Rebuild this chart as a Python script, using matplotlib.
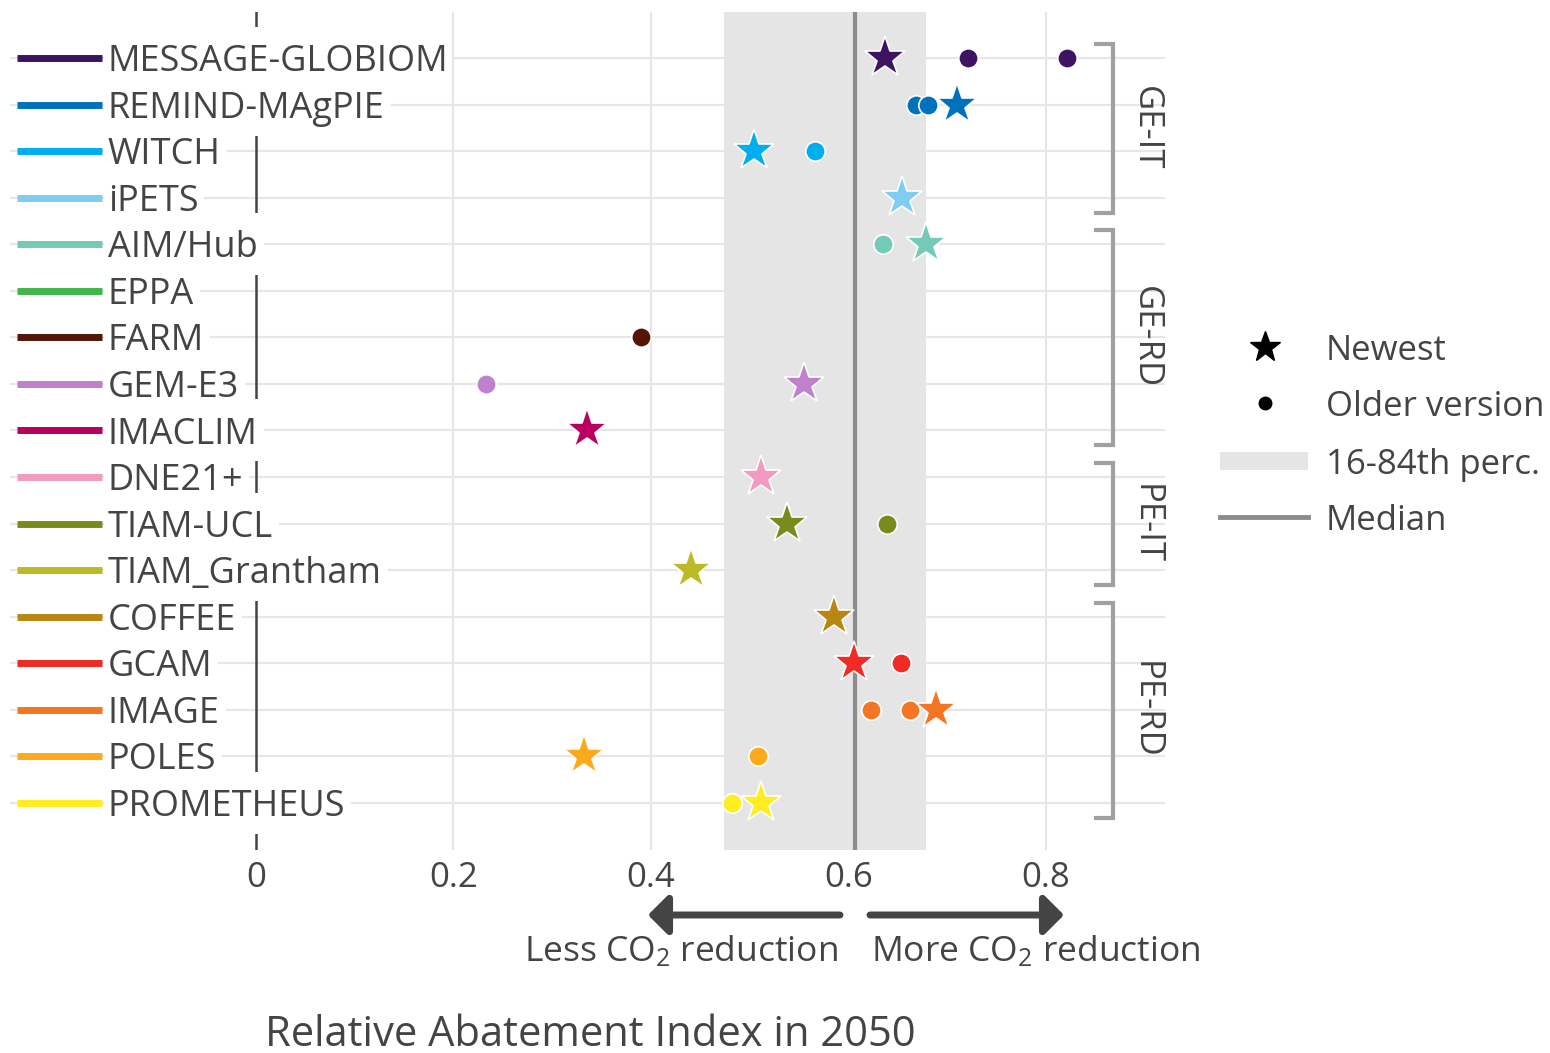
import matplotlib
matplotlib.use("Agg")
import matplotlib.pyplot as plt

plt.rcParams['font.family'] = ['Open Sans', 'DejaVu Sans']
plt.rcParams['mathtext.fontset'] = 'custom'
plt.rcParams['mathtext.rm'] = 'Open Sans'
plt.rcParams['mathtext.it'] = 'Open Sans'

TXT = '#444444'

# ---- data ----
models = ['MESSAGE-GLOBIOM', 'REMIND-MAgPIE', 'WITCH', 'iPETS', 'AIM/Hub', 'EPPA',
          'FARM', 'GEM-E3', 'IMACLIM', 'DNE21+', 'TIAM-UCL', 'TIAM_Grantham',
          'COFFEE', 'GCAM', 'IMAGE', 'POLES', 'PROMETHEUS']
colors = ['#3f1363', '#0072bd', '#00aeef', '#7fcdf2', '#74c9b9', '#3fb54a',
          '#541406', '#bf80cc', '#b8005f', '#f39ac0', '#788c1d', '#bdbb25',
          '#b98611', '#ef2b24', '#f47522', '#fbaa1d', '#ffed1f']
# newest version (star), None = no value
newest = [0.637, 0.710, 0.504, 0.654, 0.678, None,
          None, 0.555, 0.335, 0.511, 0.538, 0.441,
          0.585, 0.606, 0.689, 0.332, 0.511]
# older versions (dots)
older = [[0.721, 0.821], [0.668, 0.680], [0.566], [], [0.635], [],
         [0.390], [0.233], [], [], [0.639], [],
         [], [0.653], [0.623, 0.662], [0.508], [0.482]]
groups = ['GE-IT', 'GE-RD', 'PE-IT', 'PE-RD']
group_rows = [(0, 3), (4, 8), (9, 11), (12, 16)]
median = 0.6066
perc16, perc84 = 0.474, 0.678
xticks = [0, 0.2, 0.4, 0.6, 0.8]
xticklabels = ['0', '0.2', '0.4', '0.6', '0.8']

W, H = 1550, 1053
fig = plt.figure(figsize=(W / 100, H / 100), dpi=100)
ax = fig.add_axes([10 / W, (H - 850) / H, 1155 / W, 838 / H])
ax.set_xlim(-0.2491, 0.9205)
ax.set_ylim(17.01, -0.988)
for s in ax.spines.values():
    s.set_visible(False)

# grid, band, median
ax.axvspan(perc16, perc84, color='#e5e5e5', lw=0, zorder=0.5)
for x in xticks[1:]:
    ax.axvline(x, color='#e6e6e6', lw=1.5, zorder=2.6)
for i in range(len(models)):
    ax.axhline(i, color='#e6e6e6', lw=1.5, zorder=0)
ax.axvline(median, color='#8c8c8c', lw=3, zorder=2.7)
ax.axvline(0, color=TXT, lw=1.8, zorder=2)

ax.set_xticks(xticks)
ax.set_xticklabels(xticklabels)
ax.tick_params(axis='x', length=0, pad=8, labelsize=25, labelcolor=TXT)
ax.set_yticks([])

# model legend on the left
labels = []
for i, (m, c) in enumerate(zip(models, colors)):
    ax.plot([-0.242, -0.156], [i, i], color=c, lw=5, solid_capstyle='butt', zorder=4)
    labels.append(ax.text(-0.150, i + 0.28, m, fontsize=26, color=TXT,
                          va='baseline', ha='left', zorder=3))

# white boxes behind labels (hide grid and zero line like the original)
fig.canvas.draw()
inv = ax.transData.inverted()
for i, t in enumerate(labels):
    bb = t.get_window_extent()
    x0 = inv.transform((bb.x0 - 4, 0))[0]
    x1 = inv.transform((bb.x1 + 6, 0))[0]
    ax.add_patch(plt.Rectangle((x0, i - 0.666), x1 - x0, 1.332, facecolor='white',
                               edgecolor='none', zorder=2.5))

# points
for i, c in enumerate(colors):
    for v in older[i]:
        ax.plot(v, i, 'o', ms=14, color=c, mec='white', mew=1.2, zorder=5)
    if newest[i] is not None:
        ax.plot(newest[i], i, '*', ms=31, color=c, mec='white', mew=1.2, zorder=6)

# group brackets
for g, (a, b) in zip(groups, group_rows):
    y0, y1 = a - 0.3, b + 0.32
    ax.plot([0.851, 0.868, 0.868, 0.851], [y0, y0, y1, y1], color='#a0a0a0', lw=3,
            clip_on=False, zorder=3, solid_joinstyle='miter')
    ax.text(0.901, (a + b) / 2, g, rotation=270, fontsize=25, color=TXT,
            ha='center', va='center', clip_on=False)

# overlay in pixel coordinates for legend, arrows and title
ov = fig.add_axes([0, 0, 1, 1], facecolor='none')
ov.set_xlim(0, W)
ov.set_ylim(H, 0)
ov.axis('off')

ov.plot(1265, 347, '*', ms=23, color='black')
ov.plot(1265, 403, 'o', ms=9, color='black')
ov.add_patch(plt.Rectangle((1220, 452), 88, 18, color='#e5e5e5', lw=0))
ov.plot([1220, 1308], [517, 517], color='#8c8c8c', lw=3.5)
for y, t in zip([347, 403, 461, 517], ['Newest', 'Older version', '16-84th perc.', 'Median']):
    ov.text(1326, y + 12.5, t, fontsize=25, color=TXT, va='baseline', ha='left')

arrow = dict(arrowstyle='-|>,head_length=0.6,head_width=0.6', lw=5, color=TXT,
             shrinkA=0, shrinkB=0, mutation_scale=20)
ov.annotate('', xy=(648, 915), xytext=(840, 915), arrowprops=arrow)
ov.annotate('', xy=(1064, 915), xytext=(870, 915), arrowprops=arrow)
ov.text(838, 961, 'Less CO$_2$ reduction', fontsize=25.5, color=TXT, ha='right', va='baseline')
ov.text(871, 961, 'More CO$_2$ reduction', fontsize=25.5, color=TXT, ha='left', va='baseline')
ov.text(265, 1046, 'Relative Abatement Index in 2050', fontsize=30, color=TXT,
        ha='left', va='baseline')

fig.savefig('out.png', dpi=100)
